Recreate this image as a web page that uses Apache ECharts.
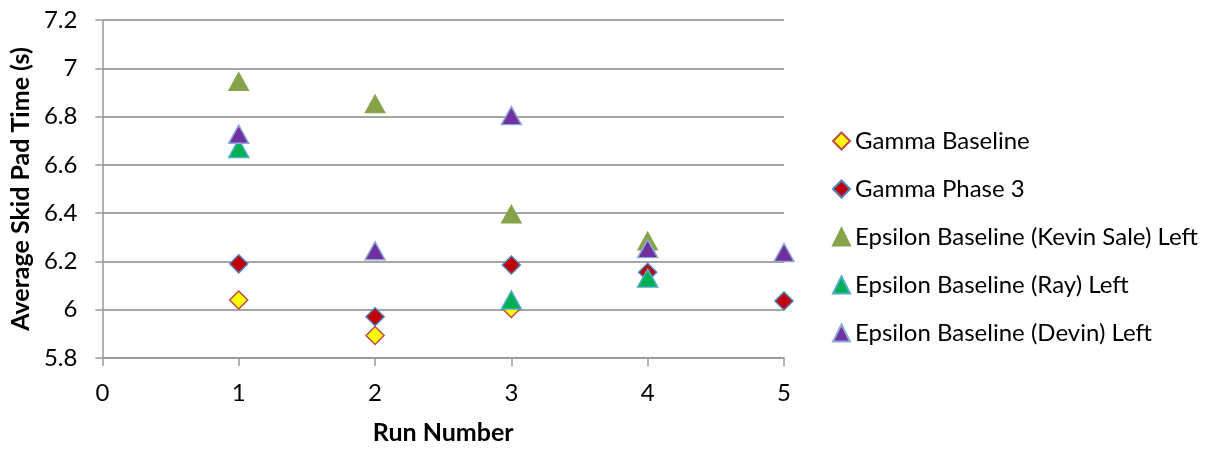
<!DOCTYPE html>
<html><head><meta charset="utf-8">
<script src="https://cdn.jsdelivr.net/npm/echarts@6/dist/echarts.min.js"></script>
<style>html,body{margin:0;padding:0;background:#fff}#c{width:1218px;height:450px}</style>
</head><body><div id="c"></div>
<script>
const seriesNames = ["Gamma Baseline","Gamma Phase 3","Epsilon Baseline (Kevin Sale) Left","Epsilon Baseline (Ray) Left","Epsilon Baseline (Devin) Left"];
const gammaBaseline = [[1,6.04],[2,5.893],[3,6.005]];
const gammaPhase3 = [[1,6.19],[2,5.971],[3,6.185],[4,6.155],[5,6.036]];
const epsKevin = [[1,6.945],[2,6.853],[3,6.396],[4,6.285]];
const epsRay = [[1,6.668],[3,6.04],[4,6.131]];
const epsDevin = [[1,6.727],[2,6.244],[3,6.804],[4,6.253],[5,6.237]];
const yTicks = {min:5.8,max:7.2,step:0.2};
const xTicks = {min:0,max:5,step:1};

const FONT = "Lato";
const chart = echarts.init(document.getElementById('c'), null, {renderer:'canvas'});
function mk(name, data, symbol, size, fill, border, bw){
  return {name, type:'scatter', data, symbol, symbolSize:size,
    itemStyle:{color:fill, borderColor:border, borderWidth:bw, opacity:1}};
}
chart.setOption({
  animation:false,
  textStyle:{fontFamily:FONT,color:'#000'},
  grid:{left:100,top:20,width:684,height:343,containLabel:false},
  xAxis:{type:'value',min:xTicks.min,max:xTicks.max,interval:xTicks.step,
    name:'Run Number',nameLocation:'middle',nameGap:62,
    nameTextStyle:{fontFamily:FONT,fontWeight:'bold',fontSize:25,color:'#000'},
    axisLine:{show:true,lineStyle:{color:'#999',width:1.5}},
    axisTick:{show:true,length:8,lineStyle:{color:'#999',width:1.5}},
    axisLabel:{fontSize:24,color:'#000',margin:23,fontFamily:FONT},
    splitLine:{show:false}},
  yAxis:{type:'value',min:yTicks.min,max:yTicks.max,interval:yTicks.step,
    name:'Average Skid Pad Time (s)',nameLocation:'middle',nameGap:66,
    nameTextStyle:{fontFamily:FONT,fontWeight:'bold',fontSize:25,color:'#000'},
    axisLine:{show:true,lineStyle:{color:'#999',width:1.5}},
    axisTick:{show:true,length:7,lineStyle:{color:'#999',width:1.5}},
    axisLabel:{fontSize:24,color:'#000',margin:25,fontFamily:FONT,
      formatter:v=>String(Math.round(v*10)/10)},
    splitLine:{show:true,lineStyle:{color:'#888',width:1.5}}},
  legend:{orient:'vertical',left:827,top:124,itemGap:24,itemWidth:17,itemHeight:17,
    textStyle:{fontSize:24,color:'#000',fontFamily:FONT},
    data:seriesNames},
  series:[
    mk(seriesNames[0],gammaBaseline,'diamond',[18,18],'#FFFF00','#BE4B48',1.5),
    mk(seriesNames[1],gammaPhase3,'diamond',[18,18],'#C00000','#4F81BD',1.5),
    mk(seriesNames[2],epsKevin,'triangle',[20,18],'#86A34A','#86A34A',1),
    mk(seriesNames[3],epsRay,'triangle',[20,18],'#00B050','#4BACC6',1.5),
    mk(seriesNames[4],epsDevin,'triangle',[20,18],'#7030A0','#8EA9D6',1.5)
  ]
});
</script></body></html>
